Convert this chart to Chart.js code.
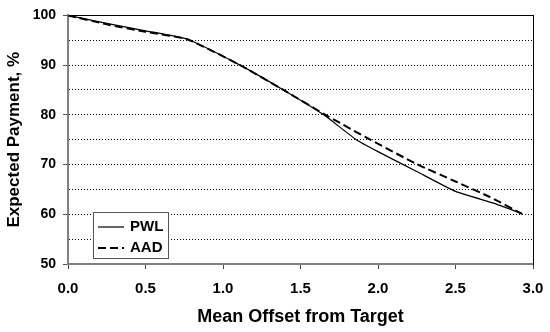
<!DOCTYPE html>
<html>
<head>
<meta charset="utf-8">
<script src="https://cdn.jsdelivr.net/npm/chart.js@4"></script>
<style>
  body { margin: 0; background: #fff; }
  #wrap { width: 550px; height: 332px; }
</style>
</head>
<body>
<div id="wrap"><canvas id="chart" width="550" height="332"></canvas></div>
<script>
// values
const pwlX = [0, 0.25, 0.5, 0.77, 1.11, 1.39, 1.65, 1.86, 2.0, 2.25, 2.5, 2.75, 2.93];
const pwlY = [100, 98.4, 96.9, 95.2, 90, 85, 80, 75, 72.6, 68.6, 64.6, 62.2, 60.1];
const aadX = [0, 0.25, 0.5, 0.77, 1.11, 1.39, 1.65, 1.95, 2.25, 2.5, 2.72, 2.93];
const aadY = [100, 98.2, 96.7, 95.2, 90, 85, 80.2, 75, 70.1, 66.6, 63.5, 60.1];
const xTicks = [0, 0.5, 1.0, 1.5, 2.0, 2.5, 3.0];
const yMin = 50, yMax = 100;

const FONT = '"Liberation Sans", Arial, sans-serif';
const toPts = (xs, ys) => xs.map((x, i) => ({ x: x, y: ys[i] }));

// legend drawn as a framed box inside the plot, lower left
const boxLegend = {
  id: 'boxLegend',
  afterDatasetsDraw(chart) {
    const { ctx, chartArea } = chart;
    const x = chartArea.left + 25, y = chartArea.bottom - 52, w = 75, h = 46;
    ctx.save();
    ctx.fillStyle = '#fff';
    ctx.fillRect(x, y, w, h);
    ctx.strokeStyle = '#555';
    ctx.lineWidth = 1;
    ctx.strokeRect(x + 0.5, y + 0.5, w, h);
    chart.data.datasets.forEach((ds, i) => {
      const ly = y + 15 + i * 21;
      ctx.beginPath();
      ctx.setLineDash(ds.borderDash || []);
      ctx.lineWidth = ds.borderWidth;
      ctx.strokeStyle = ds.borderColor;
      ctx.moveTo(x + 5, ly);
      ctx.lineTo(x + 31, ly);
      ctx.stroke();
      ctx.setLineDash([]);
      ctx.fillStyle = '#000';
      ctx.font = 'bold 15px ' + FONT;
      ctx.textBaseline = 'middle';
      ctx.fillText(ds.label, x + 37, ly);
    });
    ctx.restore();
  }
};

new Chart(document.getElementById('chart').getContext('2d'), {
  type: 'line',
  data: {
    datasets: [
      { label: 'PWL', data: toPts(pwlX, pwlY), borderColor: '#000', borderWidth: 1.2,
        pointRadius: 0, fill: false, tension: 0.15 },
      { label: 'AAD', data: toPts(aadX, aadY), borderColor: '#000', borderWidth: 2,
        borderDash: [8, 4], pointRadius: 0, fill: false, tension: 0.15 }
    ]
  },
  options: {
    responsive: false,
    animation: false,
    layout: { padding: { top: 14, right: 17, left: 0, bottom: 0 } },
    plugins: { legend: { display: false }, tooltip: { enabled: false } },
    scales: {
      x: {
        type: 'linear', min: xTicks[0], max: xTicks[xTicks.length - 1],
        afterBuildTicks: s => { s.ticks = xTicks.map(v => ({ value: v })); },
        afterFit: s => { s.height = 68; s.paddingLeft = 0; s.paddingRight = 0; },
        ticks: { color: '#000', font: { family: FONT, size: 15, weight: 'bold' },
                 padding: 11, maxRotation: 0, callback: v => v.toFixed(1) },
        grid: { drawOnChartArea: false, tickColor: '#444', tickLength: 5 },
        border: { color: '#808080', width: 2 },
        title: { display: true, text: 'Mean Offset from Target', color: '#000',
                 font: { family: FONT, size: 18, weight: 'bold' }, padding: { top: 7 } }
      },
      xTop: {
        type: 'linear', position: 'top', min: 0, max: 3,
        afterFit: s => { s.height = 0; s.paddingLeft = 0; s.paddingRight = 0; },
        ticks: { display: false },
        grid: { display: false },
        border: { color: '#000', width: 1 }
      },
      y: {
        min: yMin, max: yMax,
        afterFit: s => { s.width = 68; },
        ticks: { stepSize: 5, color: '#000', padding: 7,
                 font: { family: FONT, size: 14, weight: 'bold' },
                 callback: v => (v % 10 === 0 ? v : '') },
        grid: {
          color: c => (c.tick && (c.tick.value === yMin) ? 'rgba(0,0,0,0)' : '#000'),
          lineWidth: 1,
          tickLength: 5,
          tickColor: c => (c.tick && c.tick.value % 10 === 0 ? '#555' : 'rgba(0,0,0,0)')
        },
        border: { color: '#808080', width: 2, dash: c => (c.tick && c.tick.value === yMax ? [] : [1, 2]) },
        title: { display: true, text: 'Expected Payment, %', color: '#000',
                 font: { family: FONT, size: 17, weight: 'bold' }, padding: { bottom: 2 } }
      },
      yRight: {
        position: 'right', min: yMin, max: yMax,
        afterFit: s => { s.width = 0; },
        ticks: { display: false },
        grid: { display: false },
        border: { color: '#000', width: 1 }
      }
    }
  },
  plugins: [boxLegend]
});
</script>
</body>
</html>
